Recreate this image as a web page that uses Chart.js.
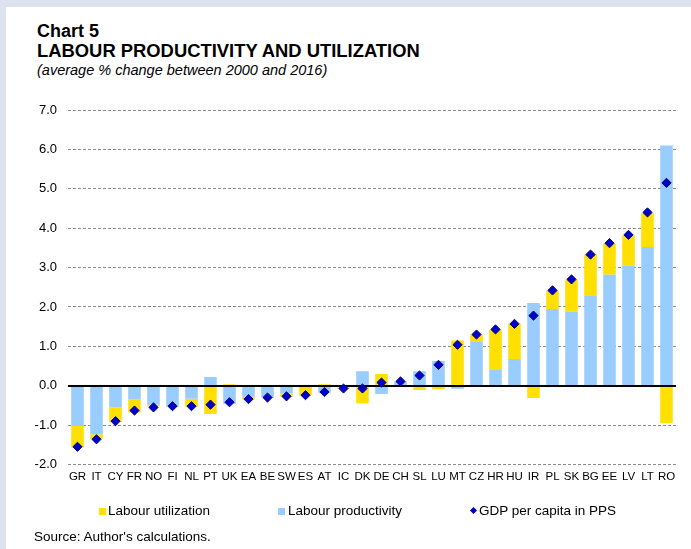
<!DOCTYPE html>
<html>
<head>
<meta charset="utf-8">
<script src="https://cdn.jsdelivr.net/npm/chart.js@4"></script>
<style>
  html, body { margin: 0; padding: 0; }
  body { width: 691px; height: 549px; background: #dce2ee; position: relative; overflow: hidden; font-family: Arial, "Liberation Sans", sans-serif; color: #000; }
  .panel { position: absolute; left: 6px; top: 7px; right: 0; bottom: 0; background: #fff; }
  .t { position: absolute; left: 37px; white-space: nowrap; }
  .h1 { top: 21.5px; font-size: 18px; line-height: 18px; font-weight: bold; }
  .h2 { top: 41.5px; font-size: 18.4px; line-height: 18px; font-weight: bold; }
  .sub { top: 62.5px; font-size: 14.5px; line-height: 14.5px; font-style: italic; }
  .leg { position: absolute; top: 503px; font-size: 13.5px; line-height: 16px; white-space: nowrap; }
  .sw { position: absolute; width: 7px; height: 7px; top: 5px; }
  .dia { position: absolute; width: 5px; height: 5px; top: 5px; background: #0000c0; transform: rotate(45deg); }
  .src { position: absolute; left: 34px; top: 529px; font-size: 13.5px; line-height: 16px; }
  #wrap { position: absolute; left: 0; top: 0; width: 691px; height: 549px; }
</style>
</head>
<body>
<div class="panel"></div>
<div class="t h1">Chart 5</div>
<div class="t h2">LABOUR PRODUCTIVITY AND UTILIZATION</div>
<div class="t sub">(average % change between 2000 and 2016)</div>

<div id="wrap"><canvas id="chart"></canvas></div>

<div class="leg" style="left:99px"><span class="sw" style="left:0;background:#ffe000"></span><span style="padding-left:9px">Labour utilization</span></div>
<div class="leg" style="left:278px"><span class="sw" style="left:0;background:#99ccff"></span><span style="padding-left:10px">Labour productivity</span></div>
<div class="leg" style="left:470px"><span class="dia" style="left:1px"></span><span style="padding-left:9px">GDP per capita in PPS</span></div>
<div class="src">Source: Author's calculations.</div>

<script>
// countries, sorted by GDP per capita growth
const countries = ['GR','IT','CY','FR','NO','FI','NL','PT','UK','EA','BE','SW','ES','AT','IC',
  'DK','DE','CH','SL','LU','MT','CZ','HR','HU','IR','PL','SK','BG','EE','LV','LT','RO'];

// average % change 2000-2016
const productivity = [-1.02,-1.23,-0.55,-0.35,-0.48,-0.52,-0.33,0.22,-0.46,-0.28,-0.29,-0.20,-0.03,-0.18,-0.03,
  0.37,-0.21,0.10,0.37,0.63,-0.08,1.13,0.42,0.68,2.10,1.95,1.88,2.28,2.82,3.05,3.52,6.10];
const utilization = [-0.55,-0.12,-0.38,-0.33,-0.05,-0.02,-0.20,-0.72,0.04,-0.07,-0.02,-0.08,-0.21,0.04,-0.05,
  -0.45,0.30,0.02,-0.11,-0.09,1.15,0.17,1.00,0.90,-0.31,0.46,0.81,1.06,0.79,0.77,0.86,-0.95];
const gdpPerCapita = [-1.55,-1.36,-0.90,-0.63,-0.55,-0.52,-0.52,-0.48,-0.42,-0.34,-0.30,-0.27,-0.24,-0.16,-0.07,
  -0.07,0.08,0.11,0.26,0.53,1.04,1.30,1.43,1.57,1.78,2.42,2.70,3.33,3.62,3.83,4.40,5.15];

const yMin = -2, yMax = 7;

// solid zero line, drawn over the bars but under the diamonds
const zeroLine = {
  id: 'zeroLine',
  beforeDatasetDraw(chart, args) {
    if (args.index !== 0) return;
    const { ctx, chartArea: a, scales: { y } } = chart;
    const py = Math.round(y.getPixelForValue(0));
    ctx.save();
    ctx.strokeStyle = '#000';
    ctx.lineWidth = 2;
    ctx.beginPath();
    ctx.moveTo(a.left, py);
    ctx.lineTo(a.right, py);
    ctx.stroke();
    ctx.restore();
  }
};

new Chart(document.getElementById('chart'), {
  type: 'bar',
  data: {
    labels: countries,
    datasets: [
      { type: 'line', label: 'GDP per capita in PPS', data: gdpPerCapita, showLine: false,
        pointStyle: 'rectRot', pointRadius: 4.6, backgroundColor: '#0000c8', borderColor: '#00008c', borderWidth: 1 },
      { label: 'Labour productivity', data: productivity, backgroundColor: '#99ccff', barPercentage: 0.66, categoryPercentage: 1 },
      { label: 'Labour utilization', data: utilization, backgroundColor: '#ffe000', barPercentage: 0.66, categoryPercentage: 1 }
    ]
  },
  options: {
    responsive: true,
    maintainAspectRatio: false,
    animation: false,
    layout: { padding: { top: 110, right: 15, bottom: 62.5, left: 0 } },
    plugins: { legend: { display: false }, tooltip: { enabled: false } },
    scales: {
      x: {
        stacked: true,
        grid: { display: false, drawTicks: false },
        border: { display: false },
        ticks: { color: '#000', padding: 5, autoSkip: false, maxRotation: 0, font: { family: 'Arial, "Liberation Sans"', size: 11.5 } },
        afterFit: s => { s.height = 22; }
      },
      y: {
        stacked: true,
        min: yMin,
        max: yMax,
        border: { display: false, dash: [3, 2] },
        grid: { drawTicks: false, lineWidth: 1, color: c => c.tick && c.tick.value === 0 ? 'rgba(0,0,0,0)' : '#8c8c8c' },
        ticks: { stepSize: 1, padding: 11, color: '#000', font: { family: 'Arial, "Liberation Sans"', size: 13 },
          callback: v => v.toFixed(1) },
        afterFit: s => { s.width = 68; }
      }
    }
  },
  plugins: [zeroLine]
});
</script>
</body>
</html>
